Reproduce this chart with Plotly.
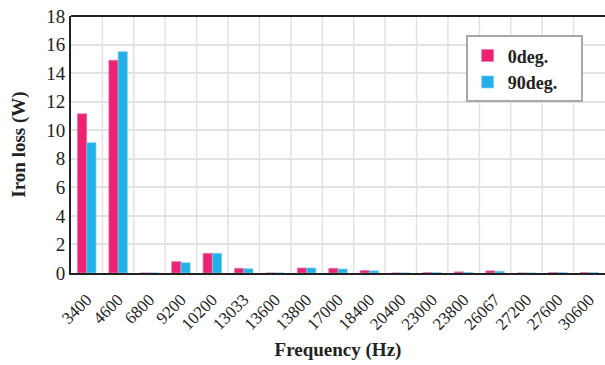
import plotly.graph_objects as go

categories = ["3400", "4600", "6800", "9200", "10200", "13033", "13600", "13800",
              "17000", "18400", "20400", "23000", "23800", "26067", "27200", "27600", "30600"]
loss_0deg = [11.15, 14.9, 0, 0.8, 1.38, 0.33, 0, 0.35,
             0.33, 0.18, 0, 0.03, 0.08, 0.15, 0, 0.03, 0.03]
loss_90deg = [9.13, 15.5, 0, 0.72, 1.38, 0.3, 0, 0.35,
              0.28, 0.15, 0, 0.02, 0.04, 0.12, 0, 0.03, 0.02]
y_ticks = [0, 2, 4, 6, 8, 10, 12, 14, 16, 18]

font_family = "Liberation Serif"
nbsp = "\u00a0"

fig = go.Figure()
fig.add_trace(go.Bar(x=categories, y=loss_0deg, name="<b>0deg.</b>",
                     marker=dict(color="#EE2271", line=dict(color="#D77DB8", width=0.7))))
fig.add_trace(go.Bar(x=categories, y=loss_90deg, name="<b>90deg.</b>" + nbsp * 4,
                     marker=dict(color="#22B1E6", line=dict(color="#7CD0F0", width=0.7))))

fig.update_layout(
    width=605, height=365,
    margin=dict(l=71, r=0, t=16, b=92),
    paper_bgcolor="white", plot_bgcolor="white",
    barmode="group", bargap=0.41, bargroupgap=0,
    font=dict(family=font_family, color="#222222", size=17),
    showlegend=True,
    legend=dict(x=0.739, y=0.925, xanchor="left", yanchor="top",
                bgcolor="white", bordercolor="#A8A8A8", borderwidth=2,
                font=dict(family=font_family, size=18, color="#222222"),
                itemwidth=30, tracegroupgap=0),
)
fig.update_xaxes(
    type="category", tickangle=-45, ticks="outside", ticklen=8, tickcolor="rgba(0,0,0,0)",
    showgrid=False,
    showline=True, linecolor="#222222", linewidth=2, mirror=False,
    tickfont=dict(family=font_family, size=17, color="#222222"),
    title=dict(text="<b>Frequency (Hz)</b>", font=dict(family=font_family, size=19, color="#222222"), standoff=10),
)
fig.update_yaxes(
    range=[0, 18], tickvals=y_ticks, ticks="",
    showgrid=True, gridcolor="#E2E2E2", gridwidth=1.5,
    showline=True, linecolor="#222222", linewidth=2, mirror=False, zeroline=False,
    tickfont=dict(family=font_family, size=19, color="#222222"),
    title=dict(text="<b>Iron loss (W)</b>", font=dict(family=font_family, size=19, color="#222222"), standoff=16),
)
n = len(categories)
for k in range(1, n):
    fig.add_shape(type="line", xref="x", yref="paper", x0=k - 0.5, x1=k - 0.5, y0=0, y1=1,
                  line=dict(color="#E2E2E2", width=1.5), layer="below")
fig.add_shape(type="line", xref="paper", yref="paper", x0=0, x1=1, y0=1, y1=1,
              line=dict(color="#222222", width=2))

fig.write_html("out.html")
